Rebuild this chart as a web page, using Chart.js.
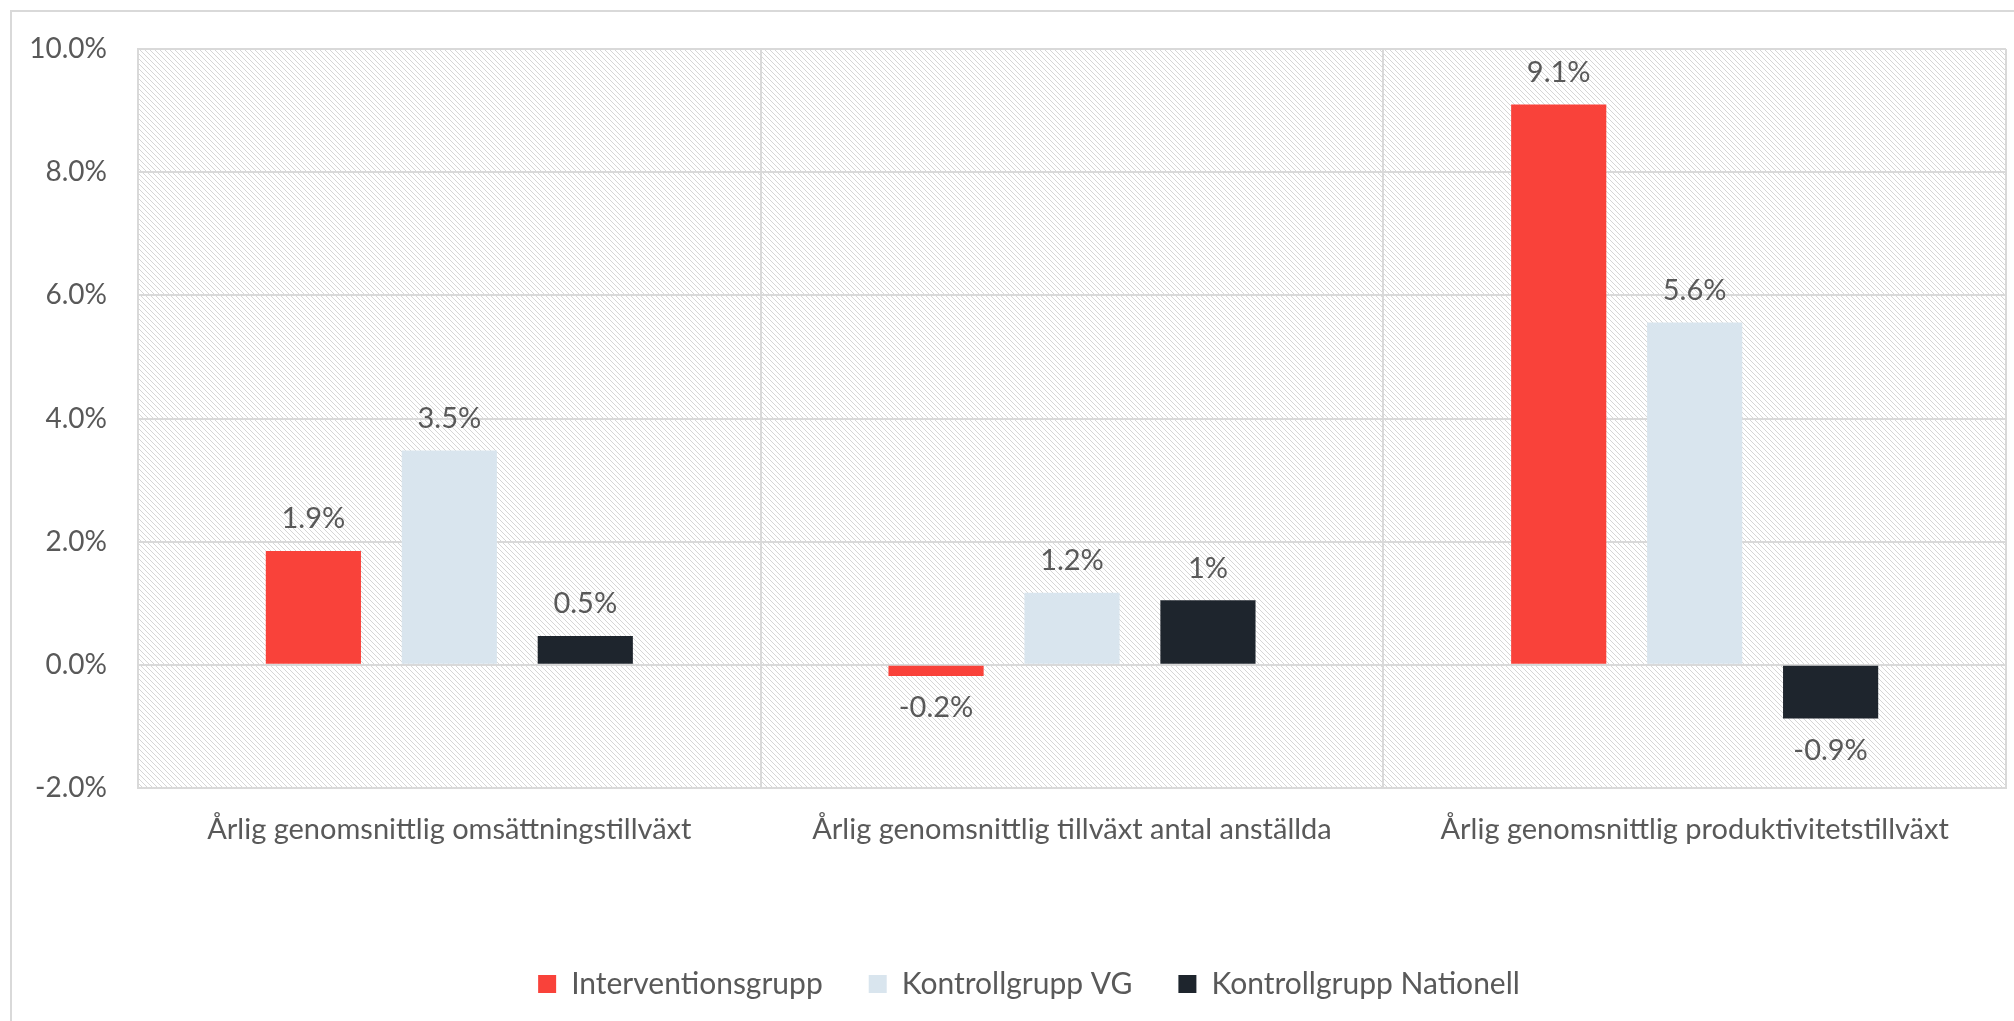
<!DOCTYPE html>
<html>
<head>
<meta charset="utf-8">
<script src="https://cdn.jsdelivr.net/npm/chart.js@4"></script>
<style>
  html, body { margin: 0; padding: 0; background: #fff; }
  #wrap { width: 2014px; height: 1021px; position: relative; }
</style>
</head>
<body>
<div id="wrap"><canvas id="chart"></canvas></div>
<script>
const categories = [
  'Årlig genomsnittlig omsättningstillväxt',
  'Årlig genomsnittlig tillväxt antal anställda',
  'Årlig genomsnittlig produktivitetstillväxt'
];
const seriesNames = ['Interventionsgrupp', 'Kontrollgrupp VG', 'Kontrollgrupp Nationell'];
const interventionsgrupp = [1.85, -0.18, 9.1];
const kontrollgruppVG = [3.48, 1.17, 5.56];
const kontrollgruppNationell = [0.47, 1.05, -0.87];
const labelsInterv = ['1.9%', '-0.2%', '9.1%'];
const labelsVG = ['3.5%', '1.2%', '5.6%'];
const labelsNat = ['0.5%', '1%', '-0.9%'];
const yTicks = [-2, 0, 2, 4, 6, 8, 10];

const textColor = '#595959';
const gridColor = '#d9d9d9';
const fontFamily = 'Lato, "Open Sans", sans-serif';

// hatch pattern for plot background
function makeHatch() {
  const c = document.createElement('canvas');
  c.width = 5; c.height = 5;
  const g = c.getContext('2d');
  g.fillStyle = '#ffffff';
  g.fillRect(0, 0, 5, 5);
  g.fillStyle = '#d6d6d6';
  for (let i = 0; i < 5; i++) {
    g.fillRect(i, i, 1, 1);
  }
  return g.createPattern(c, 'repeat');
}

const backgroundPlugin = {
  id: 'bgHatch',
  beforeDraw(chart) {
    const {ctx, chartArea: a} = chart;
    ctx.save();
    ctx.fillStyle = makeHatch();
    ctx.fillRect(a.left, a.top, a.right - a.left, a.bottom - a.top);
    // outer frame
    ctx.strokeStyle = gridColor;
    ctx.lineWidth = 2;
    ctx.strokeRect(11, 11, chart.width + 20, chart.height + 20);
    ctx.restore();
  }
};

// legend in the original sits a bit right of the canvas centre
const legendShift = {
  id: 'legendShift',
  afterLayout(chart) {
    if (chart.legend) {
      chart.legend.left += 26;
      chart.legend.right += 26;
    }
  }
};

const valueLabelPlugin = {
  id: 'valueLabels',
  afterDatasetsDraw(chart) {
    const {ctx} = chart;
    ctx.save();
    ctx.font = '29px ' + fontFamily;
    ctx.fillStyle = textColor;
    ctx.textAlign = 'center';
    ctx.textBaseline = 'middle';
    chart.data.datasets.forEach((ds, i) => {
      const meta = chart.getDatasetMeta(i);
      meta.data.forEach((bar, j) => {
        const v = ds.data[j];
        const y = v >= 0 ? bar.y - 32 : bar.y + 32;
        ctx.fillText(ds.valueLabels[j], bar.x, y);
      });
    });
    ctx.restore();
  }
};

const data = {
  labels: categories,
  datasets: [
    {
      label: seriesNames[0],
      data: interventionsgrupp,
      valueLabels: labelsInterv,
      backgroundColor: '#f9423a'
    },
    {
      label: seriesNames[1],
      data: kontrollgruppVG,
      valueLabels: labelsVG,
      backgroundColor: '#d9e5ee'
    },
    {
      label: seriesNames[2],
      data: kontrollgruppNationell,
      valueLabels: labelsNat,
      backgroundColor: '#1e252d'
    }
  ]
};

const config = {
  type: 'bar',
  data: data,
  options: {
    responsive: true,
    maintainAspectRatio: false,
    animation: false,
    devicePixelRatio: 1,
    categoryPercentage: 0.655,
    barPercentage: 0.7,
    layout: {
      padding: {top: 49, right: 8, left: 0, bottom: 12}
    },
    scales: {
      x: {
        grid: {
          offset: true,
          color: gridColor,
          lineWidth: 2,
          drawTicks: false
        },
        border: {color: gridColor, width: 2},
        ticks: {
          color: textColor,
          font: {family: fontFamily, size: 29},
          padding: 24,
          maxRotation: 0
        },
        afterFit(scale) {
          scale.height = 135;
        }
      },
      y: {
        min: -2,
        max: 10,
        grid: {
          color: gridColor,
          lineWidth: 2,
          drawTicks: false
        },
        border: {color: gridColor, width: 2},
        ticks: {
          stepSize: 2,
          color: textColor,
          font: {family: fontFamily, size: 28},
          padding: 31,
          callback: v => v.toFixed(1) + '%'
        },
        afterBuildTicks(scale) {
          scale.ticks = yTicks.map(v => ({value: v}));
        },
        afterFit(scale) {
          scale.width = 138;
        }
      }
    },
    plugins: {
      legend: {
        position: 'bottom',
        labels: {
          color: textColor,
          font: {family: fontFamily, size: 30},
          boxWidth: 18,
          boxHeight: 18,
          padding: 46
        }
      },
      tooltip: {enabled: false}
    }
  },
  plugins: [backgroundPlugin, legendShift, valueLabelPlugin]
};

Chart.defaults.color = textColor;
const chart = new Chart(document.getElementById('chart'), config);
</script>
</body>
</html>
